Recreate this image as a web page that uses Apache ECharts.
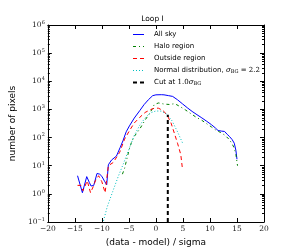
<!DOCTYPE html>
<html><head><meta charset="utf-8">
<script src="https://cdn.jsdelivr.net/npm/echarts@6/dist/echarts.min.js"></script>
<style>html,body{margin:0;padding:0;background:#fff}#c{width:288px;height:252px}</style>
</head><body><div id="c"></div>
<script>
// ---- data ----
const allSkyX = [-14.5,-13.6,-12.8,-12.3,-12.0,-11.5,-10.9,-10.4,-10.0,-9.5,-9.1,-8.8,-8.2,-7.3,-6.6,-6.1,-5.5,-4.9,-4.0,-3.0,-2.2,-1.4,-0.6,0.0,1.0,1.5,2.3,3.1,4.0,4.9,5.8,6.7,7.6,8.5,9.4,10.3,11.0,11.5,12.1,12.7,13.2,13.6,14.1,14.5,14.8,15.0];
const allSkyY = [4.4,1.1,4.1,2.5,1.9,2.0,5.3,5.0,4.2,2.8,2.1,10.8,16,22,45,77,160,260,494,900,1475,2200,3080,3300,3340,3300,3100,2900,2200,1590,1150,850,650,500,380,285,220,178,170,165,130,110,85,63,35,17];

const haloX = [-6.2,-5.8,-5.3,-4.9,-4.5,-4.0,-3.0,-2.0,-1.0,-0.3,0.5,1.5,2.5,3.5,4.5,5.5,6.5,7.5,8.5,9.5,10.3,11.0,12.0,12.8,13.6,14.1,14.5,14.8,15.1];
const haloY = [5,8,20,40,70,110,200,420,800,1500,1700,1550,1500,1600,1250,950,700,520,410,300,237,190,150,120,84,60,42,25,10];

const outsideX = [-14.5,-13.9,-13.5,-12.7,-12.1,-11.6,-11.2,-10.6,-10.0,-9.4,-8.8,-7.9,-6.7,-5.8,-4.9,-4.0,-3.0,-2.0,-1.0,-0.2,0.5,1.0,1.5,2.2,2.8,3.4,4.0,4.6,4.9];
const outsideY = [2,2,1.3,2.9,1.1,1.8,2.9,4.4,2.7,1.1,10,13,30,88,175,330,520,780,980,1120,1100,980,850,560,330,145,63,25,8];

const normalX = [-9.7,-9.0,-8.0,-7.0,-6.0,-5.0,-4.0,-3.0,-2.0,-1.0,0.0,1.0,2.0,3.0,4.0,5.0];
const normalY = [0.11,0.35,1.2,4,12,38,120,270,500,760,880,870,680,390,160,60];

const cutX = [2.2, 2.2];
const cutY = [0.1, 650];

const seriesNames = ['All sky','Halo region','Outside region','Normal distribution, σBG = 2.2','Cut at 1.0σBG'];
const legendLabels = ['All sky','Halo region','Outside region','Normal distribution, {s|σ}{sub|BG}{m| = 2.2}','Cut at {m|1.0}{s|σ}{sub|BG}'];

const xMin = -20, xMax = 20, xStep = 5;
const yMin = 0.1, yMax = 1e6;
const yMinorTicks = [];
for (let e = -1; e < 6; e++) for (let k = 2; k <= 9; k++) yMinorTicks.push(k * Math.pow(10, e));
const titleText = 'Loop I';
const xLabel = '(data - model) / sigma';
const yLabel = 'number of pixels';

// ---- build ----
const zip = (xs, ys) => xs.map((x, i) => [x, ys[i]]);
const colors = ['#0000ff', '#008000', '#ff0000', '#00bfbf', '#000000'];
const dashes = ['solid', [3,3,1,3], [4,3], [1,2], [4,3]];
const widths = [1, 1, 1, 1, 2];
const datasets = [zip(allSkyX, allSkyY), zip(haloX, haloY), zip(outsideX, outsideY), zip(normalX, normalY), zip(cutX, cutY)];

const serifFont = 'DejaVu Serif';
const sansFont = 'DejaVu Sans';
const fmtMinus = s => String(s).replace('-', '\u2212');

const chart = echarts.init(document.getElementById('c'), null, {renderer: 'canvas'});

// legend (drawn as graphic so that sample length / gap match the reference)
const legLeft = 133, legLen = 11, legTextX = 154, legTop = 34.5, legStep = 12;
const legFont = 7;
const richLegend = {
  s: {fontFamily: serifFont, fontStyle: 'italic', fontSize: legFont, fill: '#000'},
  sub: {fontFamily: serifFont, fontSize: 5, fill: '#000', verticalAlign: 'bottom', padding: [3,0,0,0]},
  m: {fontFamily: serifFont, fontSize: legFont, fill: '#000'}
};
const legendGraphics = [];
seriesNames.forEach((n, i) => {
  const cy = legTop + legStep * i;
  legendGraphics.push({type: 'line', silent: true,
    shape: {x1: legLeft, y1: cy, x2: legLeft + legLen, y2: cy},
    style: {stroke: colors[i], lineWidth: widths[i], lineDash: dashes[i] === 'solid' ? null : dashes[i]}});
  legendGraphics.push({type: 'text', silent: true, x: legTextX, y: cy,
    style: {text: legendLabels[i], fontFamily: sansFont, fontSize: legFont, fill: '#000',
      verticalAlign: 'middle', align: 'left', rich: richLegend}});
});

const tickCommon = {inside: true, length: 4, lineStyle: {color: '#000', width: 1}};
const minorAxis = pos => ({type: 'log', logBase: 10, min: yMin, max: yMax, position: pos,
  axisLine: {show: false, onZero: false}, splitLine: {show: false}, axisLabel: {show: false},
  axisTick: {show: true, inside: true, length: 2, customValues: yMinorTicks, lineStyle: {color: '#000', width: 1}}});
const option = {
  animation: false,
  backgroundColor: '#fff',
  title: {text: titleText, left: 152.5, textAlign: 'center', top: 15, padding: 0,
    textStyle: {fontFamily: sansFont, fontSize: 7.5, fontWeight: 'normal', color: '#000'}},
  graphic: legendGraphics,
  grid: {left: 41, right: 24, top: 25, bottom: 30, containLabel: false},
  xAxis: [
    {type: 'value', min: xMin, max: xMax, interval: xStep, position: 'bottom',
     name: xLabel, nameLocation: 'middle', nameGap: 12,
     nameTextStyle: {fontFamily: sansFont, fontSize: 9, color: '#000'},
     axisLine: {show: true, onZero: false, lineStyle: {color: '#000', width: 1}},
     axisTick: tickCommon, splitLine: {show: false},
     axisLabel: {margin: 3, fontFamily: serifFont, fontSize: 7.5, color: '#222', formatter: v => fmtMinus(v)}},
    {type: 'value', min: xMin, max: xMax, interval: xStep, position: 'top',
     axisLine: {show: true, onZero: false, lineStyle: {color: '#000', width: 1}},
     axisTick: tickCommon, splitLine: {show: false}, axisLabel: {show: false}}
  ],
  yAxis: [
    {type: 'log', logBase: 10, min: yMin, max: yMax, position: 'left',
     name: yLabel, nameLocation: 'middle', nameGap: 24, nameRotate: 90,
     nameTextStyle: {fontFamily: sansFont, fontSize: 9, color: '#000'},
     axisLine: {show: true, onZero: false, lineStyle: {color: '#000', width: 1}},
     axisTick: tickCommon,
     splitLine: {show: false},
     axisLabel: {margin: 3, color: '#222',
       formatter: v => { const e = Math.round(Math.log10(v)); return '{b|10}{s|' + fmtMinus(e) + '}'; },
       rich: {b: {fontFamily: serifFont, fontSize: 7.5, color: '#222'},
              s: {fontFamily: serifFont, fontSize: 5, color: '#222', verticalAlign: 'top', padding: [0,0,5,0]}}}},
    {type: 'log', logBase: 10, min: yMin, max: yMax, position: 'right',
     axisLine: {show: true, onZero: false, lineStyle: {color: '#000', width: 1}},
     axisTick: tickCommon,
     splitLine: {show: false}, axisLabel: {show: false}},
    minorAxis('left'),
    minorAxis('right')
  ],
  series: seriesNames.map((n, i) => ({
    name: n, type: 'line', data: datasets[i], xAxisIndex: 0, yAxisIndex: 0,
    symbol: 'none', showSymbol: false, smooth: false, z: i === 4 ? 5 : 2,
    itemStyle: {color: colors[i]},
    lineStyle: {color: colors[i], width: widths[i], type: dashes[i]}
  }))
};
chart.setOption(option);
</script>
</body></html>
